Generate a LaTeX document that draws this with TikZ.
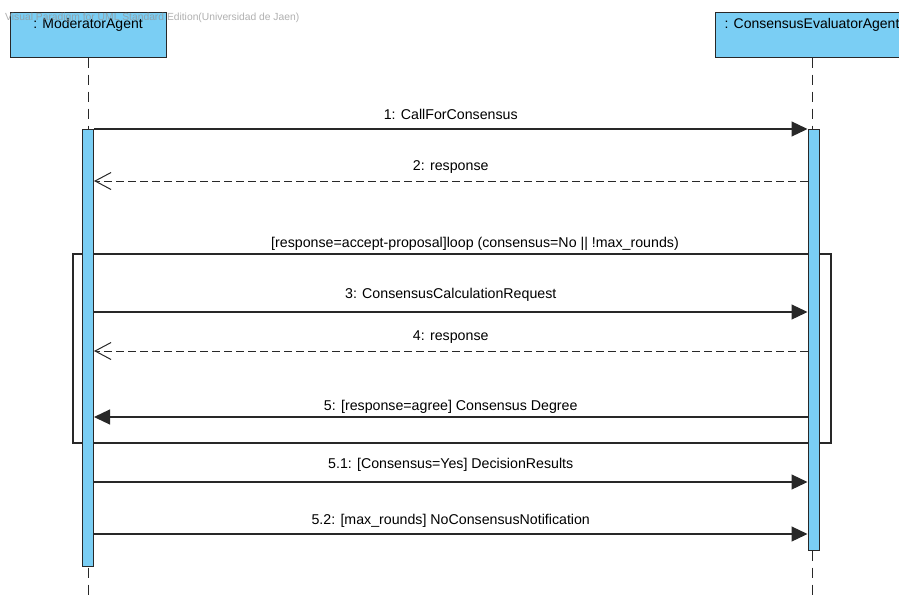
\documentclass[tikz,border=0pt]{standalone}
\usepackage{fontspec}
\setmainfont{Liberation Sans}
\usetikzlibrary{arrows.meta}

\definecolor{lifeblue}{RGB}{122,206,244}
\definecolor{inkline}{RGB}{40,40,40}
\definecolor{markgray}{RGB}{150,150,150}

\tikzset{
  headbox/.style={draw=inkline, line width=1pt, fill=lifeblue, inner sep=0pt,
                  minimum height=45pt},
  headtext/.style={anchor=base, inner sep=0pt, font=\fontsize{14}{16}\selectfont},
  lifeline/.style={draw=inkline, line width=1pt, dash pattern=on 10pt off 7pt},
  actbar/.style={draw=inkline, line width=1pt, fill=lifeblue, inner sep=0pt,
                 minimum width=11pt},
  syncmsg/.style={draw=inkline, line width=1.2pt,
                  -{Triangle[length=16pt,width=15pt]}},
  replymsg/.style={draw=inkline, line width=1pt, dash pattern=on 8pt off 4pt,
                   -{Straight Barb[length=16pt,width=17pt,line width=1pt]}},
  msglabel/.style={anchor=base, inner sep=0pt,
                   font=\fontsize{14.2}{16}\selectfont},
  fragment/.style={draw=inkline, line width=1.5pt},
  watermark/.style={anchor=base west, inner sep=0pt, text=markgray, opacity=0.75,
                    font=\fontsize{10.3}{12}\selectfont}
}

\begin{document}
\begin{tikzpicture}[x=1pt, y=-1pt]
  \useasboundingbox (0,0) rectangle (899,595);
  \clip (0,0) rectangle (899,595);
  \fill[white] (0,0) rectangle (899,595);

  % lifeline heads
  \node[headbox, minimum width=156pt] (moderator) at (88,34.5) {};
  \node[headbox, minimum width=194pt] (evaluator) at (812,34.5) {};

  % dashed lifelines
  \coordinate (modEnd) at (88,595);
  \coordinate (evaEnd) at (812,595);
  \draw[lifeline] (moderator.south) -- (modEnd);
  \draw[lifeline] (evaluator.south) -- (evaEnd);

  % combined fragment (loop)
  \node[fragment, inner sep=0pt, minimum width=758pt, minimum height=189pt,
        anchor=north west] (loopframe) at (72,253) {};
  \node[msglabel, yshift=6pt] (looplabel) at (loopframe.north -| 475,0)
        {[response=accept-proposal]loop (consensus=No || !max\_rounds)};

  % activation bars
  \node[actbar, minimum height=437pt, anchor=north] (actL) at (88,129) {};
  \node[actbar, minimum height=421pt, anchor=north] (actR) at (813.5,129) {};

  % messages
  \draw[syncmsg] (actL.east |- 0,129) -- (actR.west |- 0,129)
    node[msglabel, midway, yshift=10pt] {1: CallForConsensus};
  \draw[replymsg] (actR.west |- 0,181) -- (actL.east |- 0,181)
    node[msglabel, midway, yshift=10.5pt] {2: response};
  \draw[syncmsg] (actL.east |- 0,312) -- (actR.west |- 0,312)
    node[msglabel, midway, yshift=14pt] {3: ConsensusCalculationRequest};
  \draw[replymsg] (actR.west |- 0,351) -- (actL.east |- 0,351)
    node[msglabel, midway, yshift=10.5pt] {4: response};
  \draw[syncmsg] (actR.west |- 0,417) -- (actL.east |- 0,417)
    node[msglabel, midway, yshift=7pt] {5: [response=agree] Consensus Degree};
  \draw[syncmsg] (actL.east |- 0,482) -- (actR.west |- 0,482)
    node[msglabel, midway, yshift=14pt] {5.1: [Consensus=Yes] DecisionResults};
  \draw[syncmsg] (actL.east |- 0,534) -- (actR.west |- 0,534)
    node[msglabel, midway, yshift=10pt] {5.2: [max\_rounds] NoConsensusNotification};

  % head captions
  \node[headtext] (modName) at (88,28) {: ModeratorAgent};
  \node[headtext] (evaName) at (812,28) {: ConsensusEvaluatorAgent};

  % editor stamp
  \node[watermark] (stamp) at (5,20)
    {Visual Paradigm for UML Standard Edition(Universidad de Jaen)};
\end{tikzpicture}
\end{document}
